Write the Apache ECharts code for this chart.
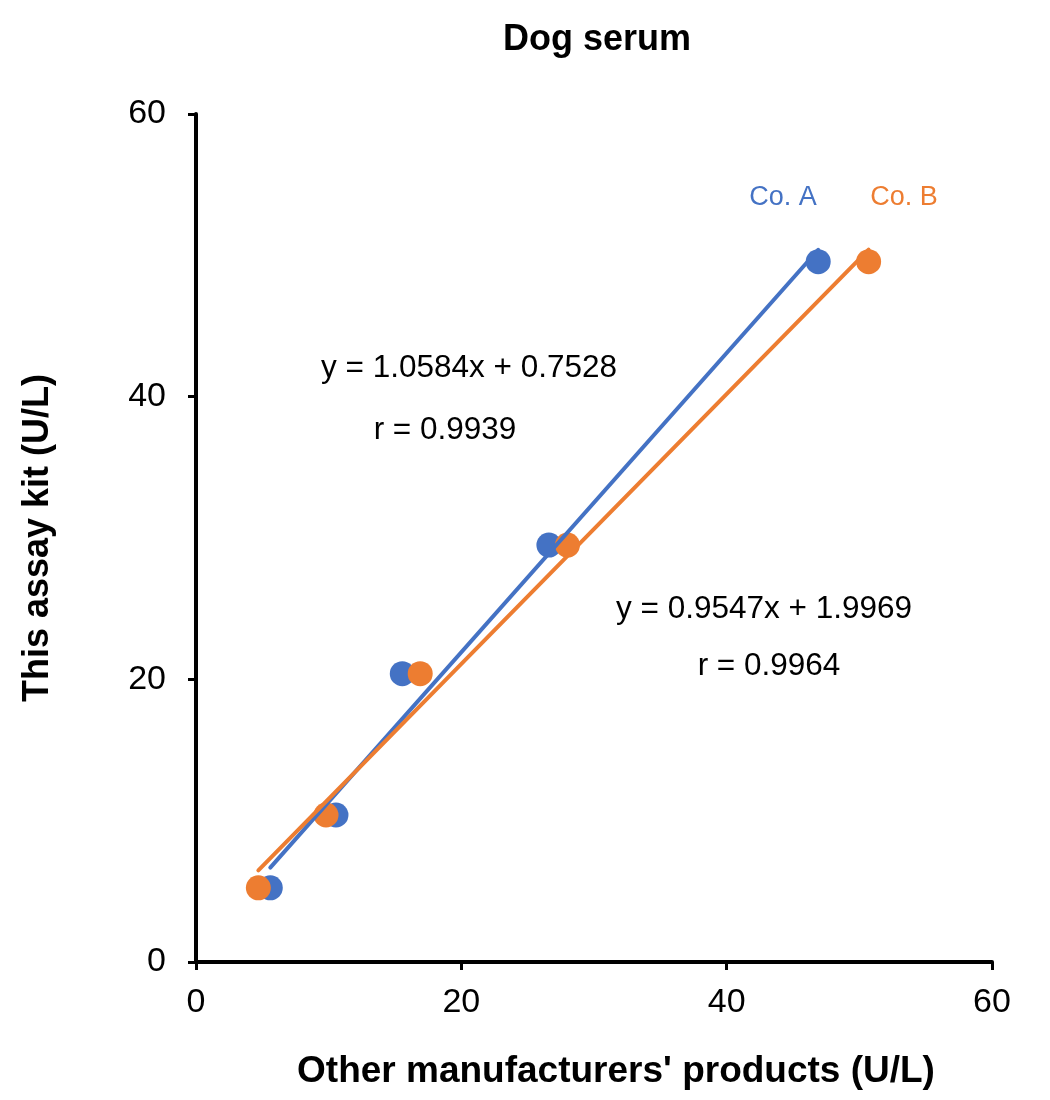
<!DOCTYPE html>
<html>
<head>
<meta charset="utf-8">
<script src="https://cdn.jsdelivr.net/npm/echarts@6/dist/echarts.min.js"></script>
<style>
  html, body { margin: 0; padding: 0; background: #fff; }
  #chart { width: 1050px; height: 1100px; }
</style>
</head>
<body>
<div id="chart"></div>
<script>
// values
const seriesNames = ["Co. A", "Co. B"];
const coA_x = [5.6, 10.55, 15.55, 26.6, 46.9];
const coB_x = [4.7, 9.8, 16.9, 28.0, 50.7];
const kit_y = [5.25, 10.4, 20.4, 29.5, 49.55];
const slopes = [1.0584, 0.9547];
const intercepts = [0.7528, 1.9969];
const rValues = [0.9939, 0.9964];
const axisTicks = [0, 20, 40, 60];

const colors = ["#4472C4", "#ED7D31"];
const font = "Liberation Sans, Arial, sans-serif";

const chart = echarts.init(document.getElementById("chart"));

const pts = (xs) => xs.map((x, i) => [x, kit_y[i]]);
const trend = (xs, k) => {
  const lo = Math.min(...xs), hi = Math.max(...xs);
  return [[lo, slopes[k] * lo + intercepts[k]], [hi, slopes[k] * hi + intercepts[k]]];
};
const eqText = (k) => "y = " + slopes[k].toFixed(4) + "x + " + intercepts[k].toFixed(4);

const axisCommon = {
  type: "value",
  min: axisTicks[0],
  max: axisTicks[axisTicks.length - 1],
  interval: 20,
  splitLine: { show: false },
  axisLine: { show: true, lineStyle: { color: "#000", width: 4 } },
  axisTick: { show: true, length: 8, lineStyle: { color: "#000", width: 3 } },
  nameLocation: "middle",
  nameTextStyle: { color: "#000", fontSize: 36, fontWeight: "bold", fontFamily: font },
};

const option = {
  backgroundColor: "#fff",
  animation: false,
  title: {
    text: "Dog serum",
    left: 592,
    top: 17,
    textAlign: "center",
    textStyle: { color: "#000", fontSize: 36, fontWeight: "bold", fontFamily: font },
  },
  grid: { left: 196, right: 58, top: 114, bottom: 138 },
  xAxis: Object.assign({}, axisCommon, {
    name: "Other manufacturers' products (U/L)",
    nameGap: 91,
    nameTextStyle: Object.assign({}, axisCommon.nameTextStyle, { fontSize: 37, padding: [0, 0, 0, 44] }),
    axisLabel: { color: "#000", fontSize: 34, fontFamily: font, margin: 24 },
  }),
  yAxis: Object.assign({}, axisCommon, {
    name: "This assay kit (U/L)",
    nameGap: 140,
    axisLabel: { color: "#000", fontSize: 34, fontFamily: font, margin: 30 },
  }),
  series: [
    {
      name: seriesNames[0],
      type: "scatter",
      data: pts(coA_x),
      symbolSize: 25,
      itemStyle: { color: colors[0], opacity: 1 },
      z: 2,
    },
    {
      name: seriesNames[1],
      type: "scatter",
      data: pts(coB_x),
      symbolSize: 25,
      itemStyle: { color: colors[1], opacity: 1 },
      z: 3,
    },
    {
      type: "line",
      data: trend(coA_x, 0),
      showSymbol: false,
      lineStyle: { color: colors[0], width: 4, cap: "round" },
      z: 4,
    },
    {
      type: "line",
      data: trend(coB_x, 1),
      showSymbol: false,
      lineStyle: { color: colors[1], width: 4, cap: "round" },
      z: 5,
    },
  ],
  graphic: [
    { type: "text", x: 783, y: 198, style: { text: seriesNames[0], fill: colors[0], font: "27px " + font, textAlign: "center", textVerticalAlign: "middle" } },
    { type: "text", x: 904, y: 198, style: { text: seriesNames[1], fill: colors[1], font: "27px " + font, textAlign: "center", textVerticalAlign: "middle" } },
    { type: "text", x: 469, y: 368, style: { text: eqText(0), fill: "#000", font: "31.5px " + font, textAlign: "center", textVerticalAlign: "middle" } },
    { type: "text", x: 445, y: 430, style: { text: "r = " + rValues[0], fill: "#000", font: "31.5px " + font, textAlign: "center", textVerticalAlign: "middle" } },
    { type: "text", x: 764, y: 609, style: { text: eqText(1), fill: "#000", font: "31.5px " + font, textAlign: "center", textVerticalAlign: "middle" } },
    { type: "text", x: 769, y: 666, style: { text: "r = " + rValues[1], fill: "#000", font: "31.5px " + font, textAlign: "center", textVerticalAlign: "middle" } },
  ],
};

chart.setOption(option);
</script>
</body>
</html>
